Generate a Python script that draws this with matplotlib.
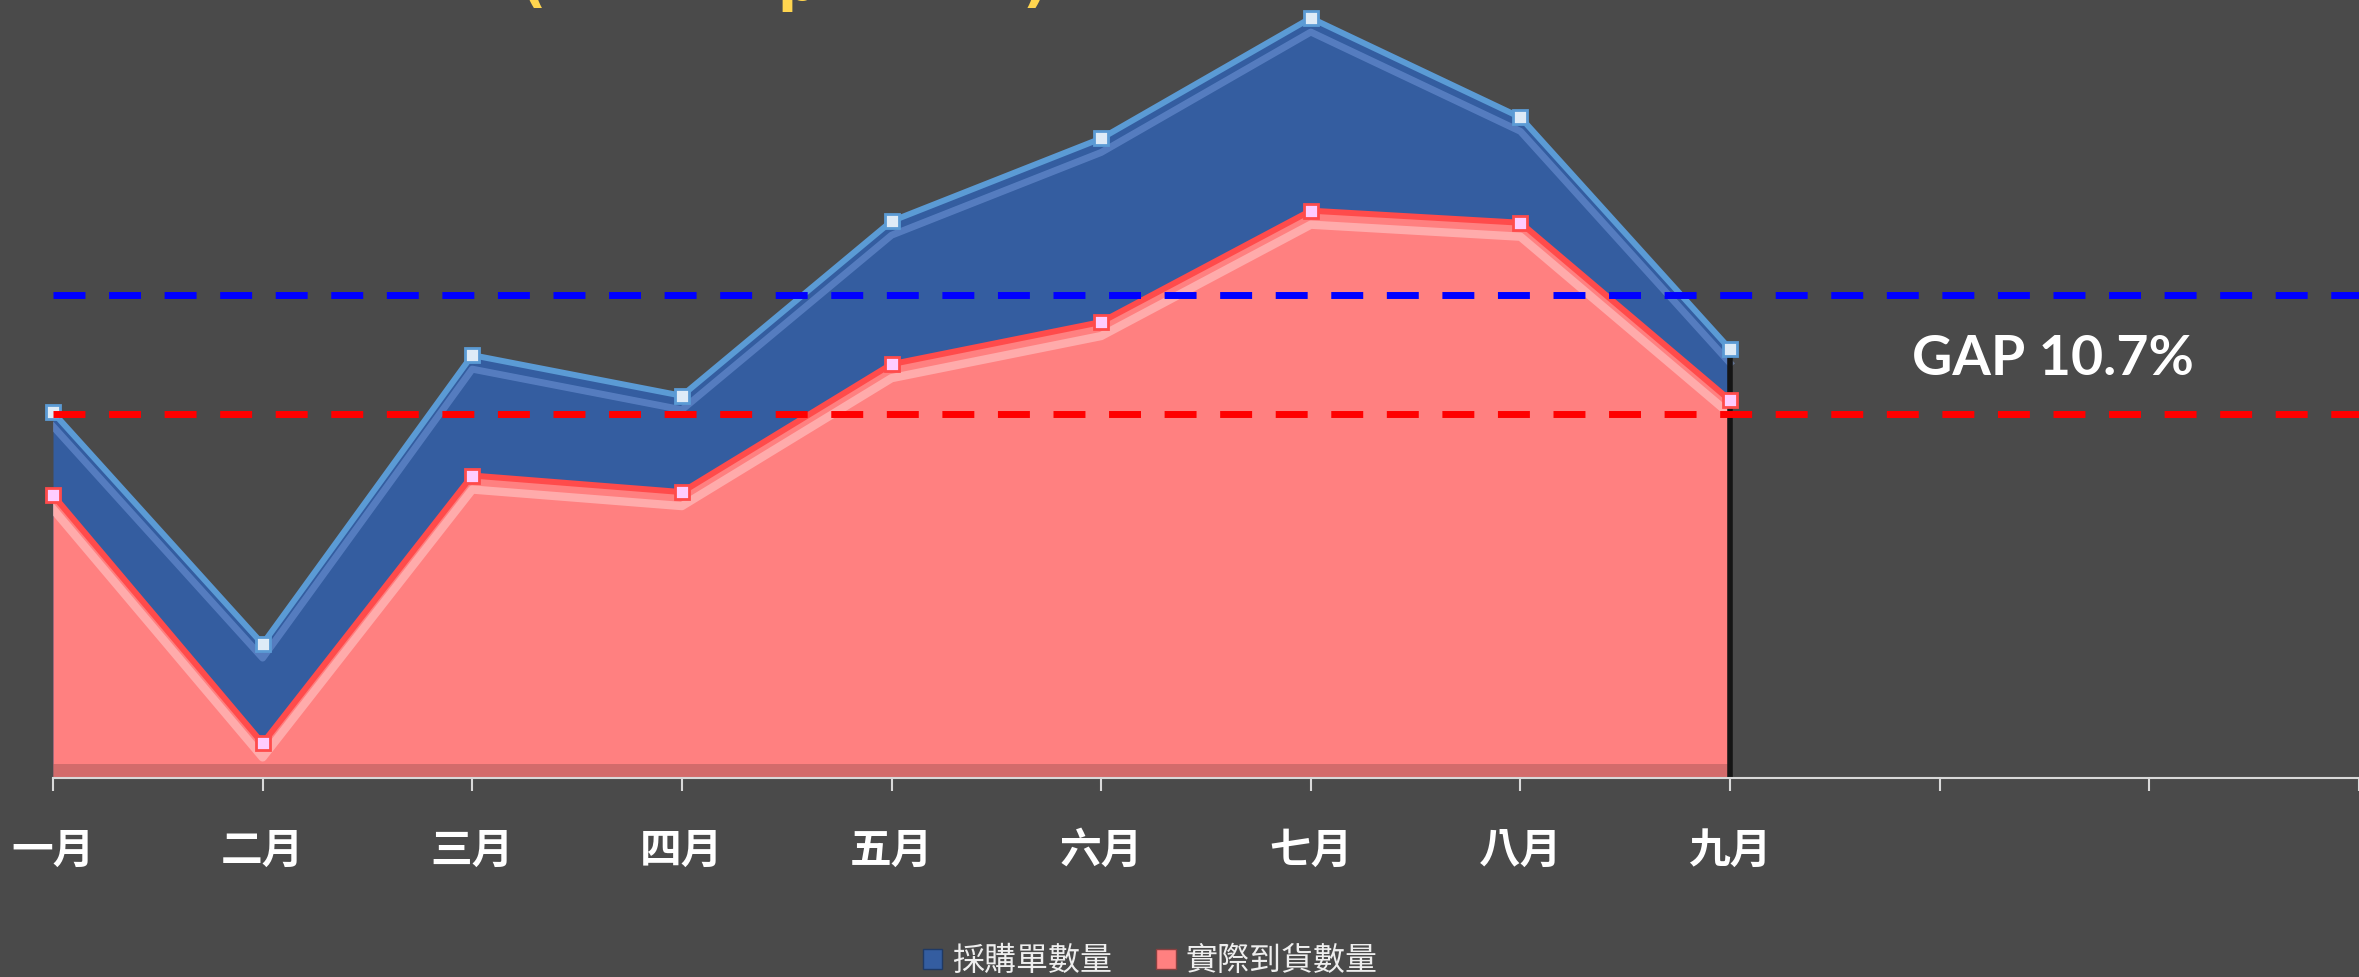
import numpy as np
import matplotlib.pyplot as plt
import matplotlib.transforms as mtransforms
from matplotlib.patches import Patch

# monthly quantities
months = ['一月', '二月', '三月', '四月', '五月', '六月', '七月', '八月', '九月', '', '', '']
po_qty = [4860, 1780, 5620, 5080, 7400, 8500, 10100, 8780, 5700]
arrived_qty = [3760, 460, 4020, 3800, 5500, 6060, 7540, 7380, 5020]
gap_label = 'GAP 10.7%'

bg = '#4a4a4a'
blue_fill = '#345da0'
blue_line = '#5b9bd5'
red_fill = '#ff8080'
red_line = '#ff4b4b'

W, H = 2359, 977
fig = plt.figure(figsize=(W / 100, H / 100), dpi=100, facecolor=bg)
ax = fig.add_axes([53 / W, 1 - 778 / H, 1 - 53 / W, 778 / H])
ax.set_facecolor(bg)

x = np.arange(len(po_qty))

# filled areas
ax.fill_between(x, 0, po_qty, color=blue_fill, zorder=2, lw=0)
ax.fill_between(x, 0, arrived_qty, color=red_fill, zorder=3, lw=0)

# soft bevel highlights under the top edges
off = mtransforms.offset_copy(ax.transData, fig, x=0, y=-14, units='dots')
ax.plot(x, po_qty, color='#7fa4e6', lw=5, alpha=0.45, transform=off, zorder=2.5)
ax.plot(x, arrived_qty, color='#ffc8c8', lw=6, alpha=0.6, transform=off, zorder=3.5)
ax.fill_between(x, 0, 180, color='#a85858', alpha=0.5, zorder=3.6, lw=0)
ax.plot([x[-1], x[-1]], [0, po_qty[-1]], color='#151515', lw=4, zorder=3.7)

# series lines with square markers
ax.plot(x, po_qty, color=blue_line, lw=4.3, marker='s', ms=10,
        mfc='#deebf7', mec=blue_line, mew=2, zorder=5, clip_on=False)
ax.plot(x, arrived_qty, color=red_line, lw=4.3, marker='s', ms=10,
        mfc='#ffccff', mec=red_line, mew=2, zorder=6, clip_on=False)

# average lines
ax.axhline(np.mean(po_qty), color='#0000ff', lw=5, dashes=(4.6, 3.4), zorder=7)
ax.axhline(np.mean(arrived_qty), color='#ff0000', lw=5, dashes=(4.6, 3.4), zorder=7)

fig.text(2053 / W, 1 - 359 / H, gap_label, ha='center', va='center',
         color='white', fontsize=40, fontweight='bold', family='Lato')

# title, mostly cut off by the top edge
for ch, px in [('(', 533), ('p', 797), (')', 1035)]:
    fig.text(px / W, 1 - 0.5 / H, ch, color='#ffd54f', fontsize=40, fontweight='bold',
             ha='center', va='baseline', family='DejaVu Sans')

ax.set_xlim(0, 11)
ax.set_ylim(0, 10340)
ax.set_xticks(np.arange(len(months)))
ax.set_xticklabels(months, fontsize=30, fontweight='bold', color='white',
                   family=['Noto Sans CJK TC', 'DejaVu Sans'])
ax.tick_params(axis='x', direction='out', length=9, width=1.5, color='#d9d9d9', pad=28)
ax.set_yticks([])
for s in ['top', 'right', 'left']:
    ax.spines[s].set_visible(False)
ax.spines['bottom'].set_color('#d9d9d9')
ax.spines['bottom'].set_linewidth(1.5)
ax.spines['bottom'].set_zorder(8)

handles = [Patch(facecolor=blue_fill, edgecolor='#1f3a66', lw=1),
           Patch(facecolor=red_fill, edgecolor='#8a4040', lw=1)]
fig.legend(handles, ['採購單數量', '實際到貨數量'], loc='center',
           bbox_to_anchor=(1150 / W, 1 - 961 / H), ncol=2, frameon=False,
           prop={'family': ['Noto Sans CJK TC', 'DejaVu Sans'], 'size': 23},
           handlelength=0.6, handleheight=0.6, handletextpad=0.3,
           columnspacing=1.4, labelcolor='#eeeeee')

fig.savefig('out.png', dpi=100, facecolor=bg)
